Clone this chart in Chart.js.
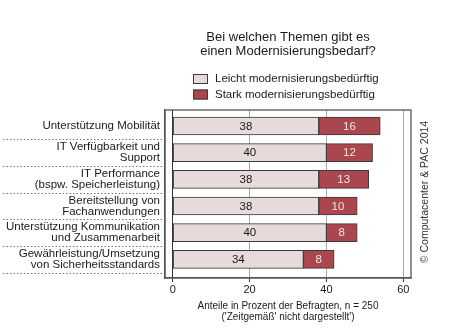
<!DOCTYPE html>
<html>
<head>
<meta charset="utf-8">
<script src="https://cdn.jsdelivr.net/npm/chart.js@4/dist/chart.umd.min.js"></script>
<style>
  html, body { margin: 0; padding: 0; background: #fff; }
  #wrap { width: 449px; height: 330px; }
</style>
</head>
<body>
<div id="wrap"><canvas id="chart" width="449" height="330"></canvas></div>
<script>
// --- DATA ---
const categories = [
    'Unterstützung Mobilität',
    ['IT Verfügbarkeit und', 'Support'],
    ['IT Performance', '(bspw. Speicherleistung)'],
    ['Bereitstellung von', 'Fachanwendungen'],
    ['Unterstützung Kommunikation', 'und Zusammenarbeit'],
    ['Gewährleistung/Umsetzung', 'von Sicherheitsstandards']
];
const leichtValues = [38, 40, 38, 38, 40, 34];
const starkValues = [16, 12, 13, 10, 8, 8];
const seriesNames = ['Leicht modernisierungsbedürftig', 'Stark modernisierungsbedürftig'];
const xTickValues = [0, 20, 40, 60];
const titleLines = ['Bei welchen Themen gibt es', 'einen Modernisierungsbedarf?'];
const xTitleLines = ['Anteile in Prozent der Befragten, n = 250', "('Zeitgemäß' nicht dargestellt')"];
const copyrightText = '© Computacenter & PAC 2014';

const FONT = 'Liberation Sans, Arial, Helvetica, sans-serif';
const LIGHT = '#e7dada';
const DARK = '#a9464e';
const EDGE = '#3a3a3a';
const FRAME = '#555';

// --- PLUGINS ---
// frame round the plot + dotted separators between the category labels
const framePlugin = {
    id: 'frame',
    beforeDatasetsDraw(chart) {
        const { ctx, chartArea: a, scales: { y } } = chart;
        ctx.save();
        ctx.strokeStyle = '#777';
        ctx.lineWidth = 1;
        ctx.setLineDash([1.5, 2]);
        categories.forEach((c, i) => {
            const py = Math.round(y.getPixelForValue(i + 0.5)) + 0.5;
            ctx.beginPath();
            ctx.moveTo(3, py);
            ctx.lineTo(a.left - 3, py);
            ctx.stroke();
        });
        ctx.setLineDash([]);
        ctx.strokeStyle = FRAME;
        ctx.lineWidth = 1.3;
        ctx.strokeRect(a.left, a.top, a.right - a.left, a.bottom - a.top);
        ctx.restore();
    }
};

// values written inside the bar segments
const valueLabels = {
    id: 'valueLabels',
    afterDatasetsDraw(chart) {
        const { ctx } = chart;
        ctx.save();
        ctx.font = '11.5px ' + FONT;
        ctx.textAlign = 'center';
        ctx.textBaseline = 'middle';
        chart.data.datasets.forEach((ds, di) => {
            const meta = chart.getDatasetMeta(di);
            ctx.fillStyle = di === 0 ? '#1a1a1a' : '#f6e4e4';
            meta.data.forEach((bar, i) => {
                const cx = (bar.x + bar.base) / 2;
                ctx.fillText(String(ds.data[i].x), cx, bar.y + 0.5);
            });
        });
        ctx.restore();
    }
};

// title, vertical legend and copyright note
const annotations = {
    id: 'annotations',
    afterDraw(chart) {
        const { ctx, chartArea: a } = chart;
        const cx = (a.left + a.right) / 2;
        ctx.save();
        ctx.fillStyle = '#1a1a1a';
        ctx.font = '13px ' + FONT;
        ctx.textAlign = 'center';
        ctx.textBaseline = 'middle';
        titleLines.forEach((t, i) => ctx.fillText(t, cx, 37 + i * 14));

        // legend
        ctx.font = '11.5px ' + FONT;
        ctx.textAlign = 'left';
        chart.data.datasets.forEach((ds, i) => {
            const yy = 79 + i * 15.5;
            ctx.fillStyle = ds.backgroundColor;
            ctx.fillRect(193, yy - 5, 15, 10);
            ctx.strokeStyle = EDGE;
            ctx.lineWidth = 1;
            ctx.strokeRect(193.5, yy - 4.5, 14, 9);
            ctx.fillStyle = '#1a1a1a';
            ctx.fillText(ds.label, 215, yy);
        });

        // copyright, rotated
        ctx.translate(a.right + 14, (a.top + a.bottom) / 2 - 2);
        ctx.rotate(-Math.PI / 2);
        ctx.textAlign = 'center';
        ctx.font = '10.5px ' + FONT;
        ctx.fillStyle = '#333';
        ctx.fillText(copyrightText, 0, 0);
        ctx.restore();
    }
};

// --- CHART ---
const ctx = document.getElementById('chart').getContext('2d');
const chart = new Chart(ctx, {
    type: 'bar',
    data: {
        datasets: [
            {
                label: seriesNames[0],
                data: leichtValues.map((v, i) => ({ x: v, y: i })),
                backgroundColor: LIGHT,
                borderColor: EDGE,
                borderWidth: 1,
                borderSkipped: false,
                barThickness: 18
            },
            {
                label: seriesNames[1],
                data: starkValues.map((v, i) => ({ x: v, y: i })),
                backgroundColor: DARK,
                borderColor: EDGE,
                borderWidth: 1,
                borderSkipped: false,
                barThickness: 18
            }
        ]
    },
    options: {
        indexAxis: 'y',
        responsive: false,
        animation: false,
        layout: { padding: { top: 110, right: 38, left: 0, bottom: 0 } },
        plugins: {
            legend: { display: false },
            title: { display: false },
            tooltip: { enabled: false }
        },
        scales: {
            x: {
                type: 'linear',
                stacked: true,
                offset: false,
                min: -2,
                max: 62,
                afterBuildTicks: (scale) => { scale.ticks = xTickValues.map(v => ({ value: v })); },
                afterFit: (scale) => {
                    scale.height = 52;
                    scale.paddingLeft = 0;
                    scale.paddingRight = 0;
                },
                grid: {
                    offset: false,
                    color: (c) => (c.tick && c.tick.value === 0 ? '#333' : '#a8a8a8'),
                    lineWidth: 1,
                    tickLength: 4,
                    tickColor: '#333'
                },
                border: { display: true, color: FRAME, width: 1.3 },
                ticks: {
                    padding: 1,
                    color: '#1a1a1a',
                    font: { family: FONT, size: 11 }
                },
                title: {
                    display: true,
                    text: xTitleLines,
                    color: '#1a1a1a',
                    font: { family: FONT, size: 10, lineHeight: 1.1 },
                    padding: { top: 0, bottom: 7 }
                }
            },
            y: {
                type: 'linear',
                stacked: true,
                reverse: true,
                offset: false,
                min: -0.6,
                max: 5.7,
                afterBuildTicks: (scale) => { scale.ticks = categories.map((c, i) => ({ value: i })); },
                afterFit: (scale) => {
                    scale.width = 165;
                    scale.paddingTop = 0;
                    scale.paddingBottom = 0;
                },
                grid: { display: false, drawTicks: false, offset: false },
                border: { display: true, color: FRAME, width: 1.3 },
                ticks: {
                    padding: 5,
                    color: '#1a1a1a',
                    font: { family: FONT, size: 11.5, lineHeight: 0.95 },
                    callback: (v) => categories[v]
                }
            }
        }
    },
    plugins: [framePlugin, valueLabels, annotations]
});
</script>
</body>
</html>
